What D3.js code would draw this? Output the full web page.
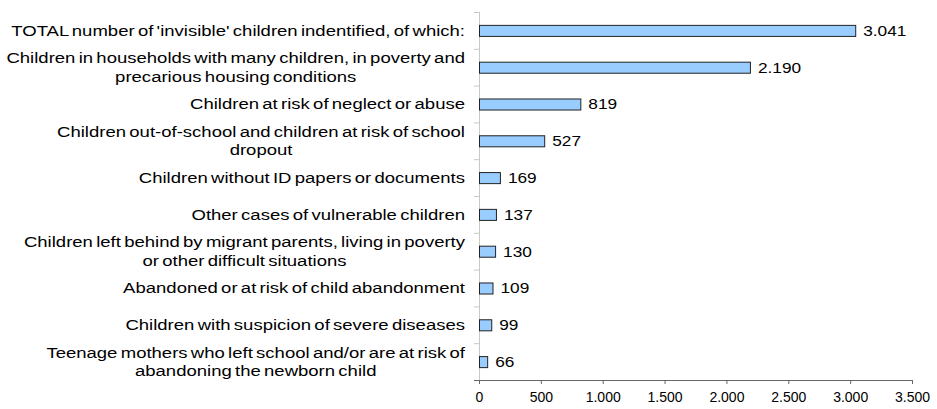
<!DOCTYPE html>
<html>
<head>
<meta charset="utf-8">
<script src="https://cdn.jsdelivr.net/npm/d3@7"></script>
<style>
  body { margin: 0; background: #fff; }
  svg { display: block; font-family: "Liberation Sans", Arial, sans-serif; }
</style>
</head>
<body>
<div id="chart"></div>
<script>
  // categories (each entry is the list of label lines)
  let categories = [
    ["TOTAL number of 'invisible' children indentified, of which:"],
    ["Children in households with many children, in poverty and", "precarious housing conditions"],
    ["Children at risk of neglect or abuse"],
    ["Children out-of-school and children at risk of school", "dropout"],
    ["Children without ID papers or documents"],
    ["Other cases of vulnerable children"],
    ["Children left behind by migrant parents, living in poverty", "or other difficult situations"],
    ["Abandoned or at risk of child abandonment"],
    ["Children with suspicion of severe diseases"],
    ["Teenage mothers who left school and/or are at risk of", "abandoning the newborn child"]
  ];
  let values = [3041, 2190, 819, 527, 169, 137, 130, 109, 99, 66];
  let xTicks = [0, 500, 1000, 1500, 2000, 2500, 3000, 3500];

  let width = 937, height = 409;
  let margin = {top: 12, left: 479, right: 25, bottom: 29};
  let plotW = width - margin.left - margin.right,
    plotH = height - margin.top - margin.bottom;

  // European style thousands separator
  let fmt = (v) => d3.format(",")(v).replace(/,/g, ".");

  let svg = d3.select('#chart').append('svg')
    .attr('width', width)
    .attr('height', height);

  let g = svg.append('g').attr("transform", "translate(" + margin.left + "," + margin.top + ")");

  let xScale = d3.scaleLinear()
    .domain([0, 3500])
    .range([0, plotW]);

  let yScale = d3.scaleBand()
    .domain(d3.range(categories.length))
    .range([0, plotH])
    .paddingInner(0.7)
    .paddingOuter(0.35);

  // category boundary ticks on the y axis
  let yBounds = d3.range(categories.length + 1).map((i) => i * plotH / categories.length);
  g.selectAll('.ytick')
    .data(yBounds)
    .enter()
    .append('line')
    .attr('x1', -5).attr('x2', 0)
    .attr('y1', (d) => d + 0.5).attr('y2', (d) => d + 0.5)
    .attr('stroke', '#c8c8c8');

  g.append('line')
    .attr('x1', 0.5).attr('x2', 0.5)
    .attr('y1', 0).attr('y2', plotH)
    .attr('stroke', '#c8c8c8');

  // bars
  g.selectAll('.bar')
    .data(values)
    .enter()
    .append('rect')
    .attr('x', 0.5)
    .attr('y', (d, i) => yScale(i) + 0.5)
    .attr('width', (d) => xScale(d))
    .attr('height', yScale.bandwidth())
    .attr('fill', '#99ccff')
    .attr('stroke', '#222')
    .attr('stroke-width', 1);

  // value labels (the source font is drawn slightly stretched)
  g.selectAll('.val')
    .data(values)
    .enter()
    .append('text')
    .attr('transform', (d, i) => 'translate(' + (xScale(d) + 8) + ',' + (yScale(i) + yScale.bandwidth() / 2) + ') scale(1.15,1)')
    .attr('dy', '0.36em')
    .attr('font-size', 15)
    .attr('fill', '#000')
    .text((d) => fmt(d));

  // category labels, multi-line blocks centred and right aligned to the axis
  let labelRight = -14;
  let stretch = 1.235;
  categories.forEach((lines, i) => {
    let cy = yScale(i) + yScale.bandwidth() / 2;
    let lineH = 18.5;
    let grp = g.append('g')
      .attr('transform', 'translate(' + labelRight + ',0) scale(' + stretch + ',1)');
    let texts = lines.map((line, j) => grp.append('text')
      .attr('y', cy + (j - (lines.length - 1) / 2) * lineH)
      .attr('dy', '0.36em')
      .attr('font-size', 15)
      .attr('word-spacing', '-1.5px')
      .attr('text-anchor', 'middle')
      .text(line));
    let maxW = d3.max(texts, (t) => t.node().getComputedTextLength());
    texts.forEach((t) => t.attr('x', -maxW / 2));
  });

  // x axis
  let xAxis = g.append('g')
    .attr('transform', 'translate(0,' + plotH + ')')
    .call(d3.axisBottom(xScale).tickValues(xTicks).tickFormat(fmt).tickSize(4).tickSizeOuter(0));
  xAxis.select('.domain').attr('stroke', '#666').attr('d', 'M-5,0.5H' + plotW);
  xAxis.selectAll('.tick line').attr('stroke', '#666');
  xAxis.selectAll('.tick text')
    .attr('font-size', 14)
    .attr('font-family', '"Liberation Sans", Arial, sans-serif')
    .attr('fill', '#000')
    .attr('dy', '1.1em');
</script>
</body>
</html>
